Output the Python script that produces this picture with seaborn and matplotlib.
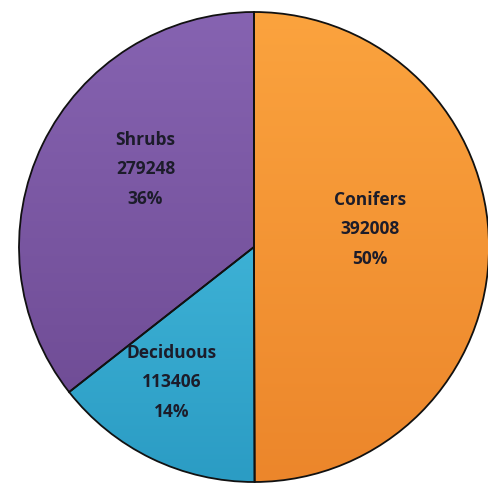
import numpy as np
import seaborn as sns
from matplotlib import pyplot as plt
from matplotlib.colors import LinearSegmentedColormap

categories = ['Conifers', 'Deciduous', 'Shrubs']
values = [392008, 113406, 279248]
percent_labels = ['50%', '14%', '36%']

# top / bottom colour of each slice (vertical gradient)
top_colors = ['#fba33e', '#4fc6e6', '#8663b1']
bottom_colors = ['#ec862b', '#2b9cc4', '#6b4890']

# label placement relative to wedge middle: (radius, angle shift in degrees)
label_layout = [(0.50, 9.0), (0.67, -5.5), (0.57, -10.0)]

sns.set_style('white')
plt.rcParams['font.family'] = ['Open Sans', 'DejaVu Sans']

fig = plt.figure(figsize=(4.88, 4.85), dpi=100)
ax = fig.add_axes([0, 0, 1, 1])

wedges, _ = ax.pie(values, startangle=90, counterclock=False, radius=1,
                   colors=top_colors,
                   wedgeprops=dict(edgecolor='#111111', linewidth=1.3))

# gradient fill clipped to each wedge
grad = np.linspace(0, 1, 256).reshape(-1, 1)
for w, c0, c1 in zip(wedges, top_colors, bottom_colors):
    cmap = LinearSegmentedColormap.from_list('g', [c1, c0])
    im = ax.imshow(grad, cmap=cmap, extent=(-1, 1, -1, 1), origin='lower',
                   aspect='auto', zorder=w.get_zorder() - 0.1)
    im.set_clip_path(w)
    w.set_facecolor('none')
    w.set_zorder(3)

for w, name, v, p, (r, dth) in zip(wedges, categories, values, percent_labels, label_layout):
    mid = np.deg2rad((w.theta1 + w.theta2) / 2 + dth)
    ax.text(r * np.cos(mid), r * np.sin(mid), f'{name}\n{v}\n{p}',
            ha='center', va='center', fontsize=12.5, fontweight='bold',
            color='#1c1c2a', linespacing=1.8, zorder=5)

ax.set_xlim(-254 / 235, 234 / 235)
ax.set_ylim(-237 / 235, 248 / 235)
ax.set_aspect('auto')
ax.axis('off')

fig.savefig('out.png', dpi=100)
